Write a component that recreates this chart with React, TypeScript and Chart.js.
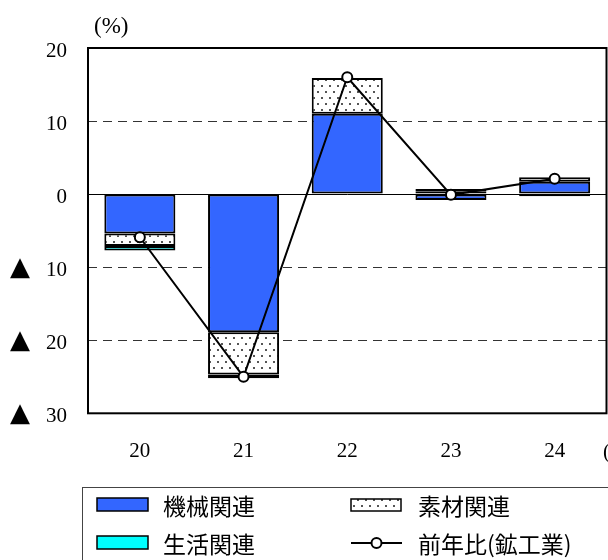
import React, { useEffect, useRef } from "react";
import { Chart, registerables } from "chart.js";
Chart.register(...registerables);

const categories = ["20", "21", "22", "23", "24"];
const machinery = [-5.4, -18.9, 11.0, -0.8, 1.7];
const materials = [-1.7, -5.8, 4.9, 0.4, 0.6];
const living = [-0.6, -0.5, 0.0, 0.3, -0.3];
const yoy = [-5.9, -25.0, 16.0, -0.1, 2.1];
const yTickLabels = ["30", "20", "10", "0", "10", "20"];
const negativeMark = "▲";
const seriesNames = ["機械関連", "素材関連", "生活関連", "前年比(鉱工業)"];
const unitLabel = "(%)";
const xUnitLabel = "(年)";

const SERIF = '"Liberation Serif", "DejaVu Serif", serif';
const CJK = '"Noto Sans CJK JP", sans-serif';
const BLUE = "#3366ff";
const CYAN = "#00ffff";

export default function App() {
  const ref = useRef<HTMLCanvasElement>(null);
  useEffect(() => {
    const canvas = ref.current!;
    const pc = document.createElement("canvas");
    pc.width = 8;
    pc.height = 12;
    const pctx = pc.getContext("2d")!;
    pctx.fillStyle = "#ffffff";
    pctx.fillRect(0, 0, 8, 12);
    pctx.fillStyle = "#555555";
    pctx.fillRect(1, 1, 2, 2);
    pctx.fillRect(5, 7, 2, 2);
    const dots = canvas.getContext("2d")!.createPattern(pc, "repeat")!;

    const decor = {
      id: "decor",
      beforeDatasetsDraw(chart: any) {
        const { ctx, chartArea } = chart;
        const y0 = chart.scales.y.getPixelForValue(0);
        ctx.save();
        ctx.strokeStyle = "#000";
        ctx.lineWidth = 1;
        ctx.beginPath();
        ctx.moveTo(chartArea.left, Math.round(y0) + 0.5);
        ctx.lineTo(chartArea.right, Math.round(y0) + 0.5);
        ctx.stroke();
        ctx.restore();
      },
      afterDraw(chart: any) {
        const { ctx, chartArea } = chart;
        const ds = chart.data.datasets;
        const ys = chart.scales.y;
        ctx.save();
        // frame
        ctx.strokeStyle = "#000";
        ctx.lineWidth = 2;
        ctx.strokeRect(chartArea.left, chartArea.top, chartArea.right - chartArea.left, chartArea.bottom - chartArea.top);
        // negative marks
        ctx.fillStyle = "#000";
        ctx.font = "26px " + '"DejaVu Sans", sans-serif';
        ctx.textAlign = "center";
        ctx.textBaseline = "middle";
        ys.ticks.forEach((t: any) => {
          if (t.value < 0) ctx.fillText(negativeMark, 20, ys.getPixelForValue(t.value) + 1);
        });
        // unit labels
        ctx.font = "23px " + SERIF;
        ctx.textAlign = "left";
        ctx.fillText(unitLabel, chartArea.left + 6, chartArea.top - 21);
        ctx.font = "21px " + SERIF;
        ctx.fillText(xUnitLabel, chartArea.right - 3.5, chartArea.bottom + 39);
        // legend
        ctx.strokeStyle = "#444";
        ctx.lineWidth = 1;
        ctx.strokeRect(82.5, 487.5, 700, 200);
        ctx.font = "23px " + CJK;
        const items = [
          { x: 97, y: 498, tx: 163, ty: 506 },
          { x: 351, y: 499, tx: 418, ty: 506 },
          { x: 97, y: 536, tx: 163, ty: 544 },
          { x: 351, y: 536, tx: 418, ty: 544 },
        ];
        items.forEach((it, i) => {
          const d = ds[i];
          if (i < 3) {
            const w = i === 1 ? 50 : 51;
            const h = i === 1 ? 12 : 13;
            ctx.fillStyle = d.backgroundColor;
            ctx.fillRect(it.x, it.y, w, h);
            ctx.strokeStyle = "#000";
            ctx.lineWidth = 1.5;
            ctx.strokeRect(it.x, it.y, w, h);
          } else {
            const ly = it.y + 7;
            ctx.strokeStyle = "#000";
            ctx.lineWidth = 2;
            ctx.beginPath();
            ctx.moveTo(it.x, ly);
            ctx.lineTo(it.x + 51, ly);
            ctx.stroke();
            ctx.beginPath();
            ctx.arc(it.x + 25.5, ly, 5, 0, Math.PI * 2);
            ctx.fillStyle = "#fff";
            ctx.fill();
            ctx.stroke();
          }
          ctx.fillStyle = "#000";
          ctx.textAlign = "left";
          ctx.textBaseline = "middle";
          ctx.fillText(d.label, it.tx, it.ty);
        });
        ctx.restore();
      },
    };

    const barCommon = {
      type: "bar" as const,
      borderColor: "#000",
      borderWidth: 2,
      borderSkipped: false,
      barPercentage: 0.685,
      categoryPercentage: 1,
      stack: "bars",
      order: 1,
    };

    const chart = new Chart(canvas, {
      type: "bar",
      data: {
        labels: categories,
        datasets: [
          { ...barCommon, label: seriesNames[0], data: machinery, backgroundColor: BLUE },
          { ...barCommon, label: seriesNames[1], data: materials, backgroundColor: dots as any },
          { ...barCommon, label: seriesNames[2], data: living, backgroundColor: CYAN },
          {
            type: "line",
            label: seriesNames[3],
            data: yoy,
            stack: "line",
            order: 0,
            borderColor: "#000",
            borderWidth: 2,
            pointRadius: 5,
            pointBorderWidth: 2,
            pointBackgroundColor: "#fff",
            pointBorderColor: "#000",
            tension: 0,
          } as any,
        ],
      },
      options: {
        animation: false,
        responsive: true,
        maintainAspectRatio: false,
        layout: { padding: { top: 48, right: 41.5, left: 8, bottom: 0 } },
        plugins: { legend: { display: false }, tooltip: { enabled: false } },
        scales: {
          x: {
            stacked: true,
            grid: { display: false, drawTicks: false },
            border: { display: false },
            ticks: { color: "#000", font: { family: SERIF, size: 21 }, padding: 26 },
            afterFit: (s: any) => {
              s.height = 146.7;
            },
          },
          y: {
            stacked: true,
            min: -30,
            max: 20,
            grid: {
              drawTicks: false,
              color: (c: any) => (c.tick && (c.tick.value === 10 || c.tick.value === -10 || c.tick.value === -20) ? "#333" : "rgba(0,0,0,0)"),
              lineWidth: 1,
            },
            border: { display: false, dash: [9, 6] },
            ticks: {
              stepSize: 10,
              color: "#000",
              font: { family: SERIF, size: 21 },
              padding: 21,
              labelOffset: 3,
              callback: (_v: any, i: number) => yTickLabels[i],
            },
            afterFit: (s: any) => {
              s.width = 80;
            },
          },
        },
      },
      plugins: [decor],
    });
    return () => chart.destroy();
  }, []);
  return (
    <div style={{ position: "fixed", left: 0, top: 0, width: 608, height: 560, overflow: "hidden" }}>
      <div style={{ position: "relative", width: 648, height: 560 }}>
        <canvas ref={ref} />
      </div>
    </div>
  );
}
